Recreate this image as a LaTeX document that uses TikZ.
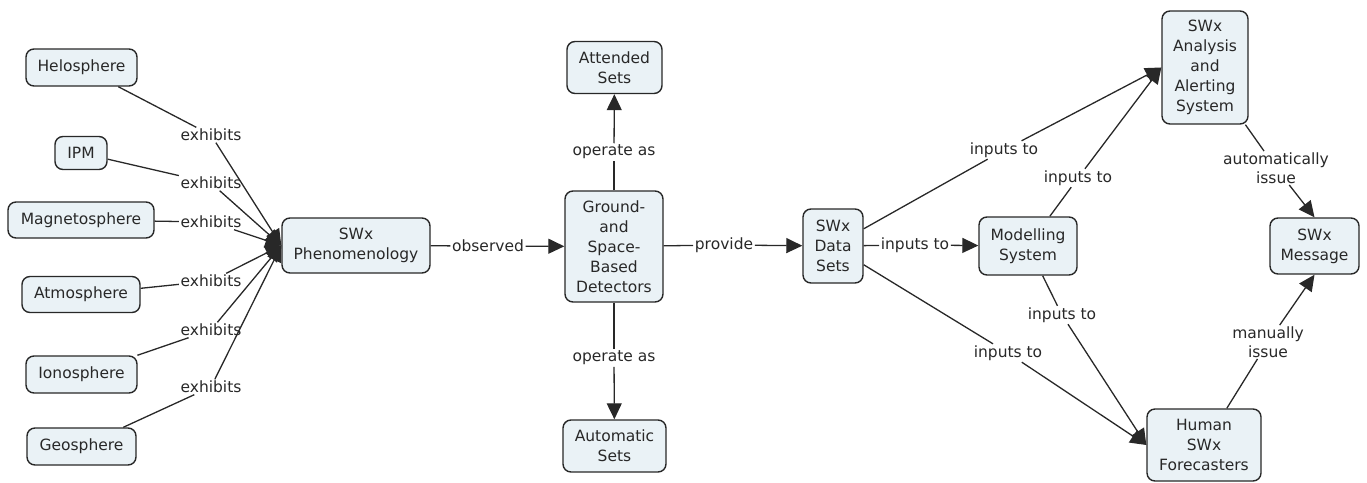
\documentclass[tikz,border=0pt]{standalone}
\usepackage{fontspec}
\setmainfont{DejaVu Sans}
\usetikzlibrary{arrows.meta}
\definecolor{boxfill}{RGB}{234,242,246}
\definecolor{ink}{RGB}{40,40,40}
\begin{document}
\begin{tikzpicture}[x=1pt,y=-1pt,
  concept/.style={draw=ink, line width=1.4pt, fill=boxfill, rounded corners=8pt,
    align=center, inner sep=0pt, text=ink, font=\fontsize{15.5}{20}\selectfont},
  lbl/.style={inner sep=1.5pt, text=ink, align=center,
    font=\fontsize{15.5}{18.5}\selectfont},
  link/.style={draw=ink, line width=1.3pt},
  arr/.style={link, -{Triangle[length=16pt,width=15pt]}},
]
\useasboundingbox (0,0) rectangle (1367,482);

% concepts
\node[concept, minimum width=111pt, minimum height=37pt] (hel) at (81.5,67.5) {Helosphere};
\node[concept, minimum width=52pt,  minimum height=33pt] (ipm) at (81,153) {IPM};
\node[concept, minimum width=146pt, minimum height=36pt] (mag) at (81,220) {Magnetosphere};
\node[concept, minimum width=118pt, minimum height=36pt] (atm) at (81,294.5) {Atmosphere};
\node[concept, minimum width=111pt, minimum height=37pt] (ion) at (81.5,374.5) {Ionosphere};
\node[concept, minimum width=109pt, minimum height=37pt] (geo) at (81.5,446.5) {Geosphere};

\node[concept, minimum width=148pt, minimum height=55pt] (phen) at (356,245.5) {SWx\\Phenomenology};
\node[concept, minimum width=98pt, minimum height=111pt] (det) at (614,246.5) {Ground-\\and\\Space-\\Based\\Detectors};
\node[concept, minimum width=95pt, minimum height=52pt] (att) at (614.5,67.5) {Attended\\Sets};
\node[concept, minimum width=103pt, minimum height=52pt] (aut) at (614.5,446) {Automatic\\Sets};

\node[concept, minimum width=60pt, minimum height=74pt] (data) at (833,246) {SWx\\Data\\Sets};
\node[concept, minimum width=98pt, minimum height=58pt] (mod) at (1028,246) {Modelling\\System};
\node[concept, minimum width=86pt, minimum height=113pt] (ana) at (1205,67.5) {SWx\\Analysis\\and\\Alerting\\System};
\node[concept, minimum width=89pt, minimum height=56pt] (msg) at (1314.5,246) {SWx\\Message};
\node[concept, minimum width=114pt, minimum height=72pt] (hum) at (1204,445) {Human\\SWx\\Forecasters};

% link labels
\node[lbl] (ex1) at (211,135) {exhibits};
\node[lbl] (ex2) at (211,183) {exhibits};
\node[lbl] (ex3) at (211,222) {exhibits};
\node[lbl] (ex4) at (211,281) {exhibits};
\node[lbl] (ex5) at (211,330) {exhibits};
\node[lbl] (ex6) at (211,387) {exhibits};
\node[lbl] (obs) at (488,246) {observed};
\node[lbl] (op1) at (614,152) {operate as};
\node[lbl] (op2) at (614,358) {operate as};
\node[lbl] (prov) at (724,245) {provide};
\node[lbl] (in1) at (915,245) {inputs to};
\node[lbl] (in2) at (1004,150) {inputs to};
\node[lbl] (in3) at (1078,178) {inputs to};
\node[lbl] (in4) at (1062,315) {inputs to};
\node[lbl] (in5) at (1008,353) {inputs to};
\node[lbl] (auto) at (1276,168) {automatically\\issue};
\node[lbl] (man) at (1268,342) {manually\\issue};

% connectors
\foreach \src/\lab in {hel/ex1, ipm/ex2, mag/ex3, atm/ex4, ion/ex5, geo/ex6} {
  \draw[link] (\src) -- (\lab);
  \draw[arr] (\lab) -- (phen.west);
}
\draw[link] (phen) -- (obs);  \draw[arr] (obs) -- (det);
\draw[link] (det) -- (op1);   \draw[arr] (op1) -- (att);
\draw[link] (det) -- (op2);   \draw[arr] (op2) -- (aut);
\draw[link] (det) -- (prov);  \draw[arr] (prov) -- (data);
\draw[link] (data) -- (in1);  \draw[arr] (in1) -- (mod);
\draw[link] (data) -- (in2);  \draw[arr] (in2) -- (ana.west);
\draw[link] (mod) -- (in3);   \draw[arr] (in3) -- (ana.west);
\draw[link] (mod) -- (in4);   \draw[arr] (in4) -- (hum.west);
\draw[link] (data) -- (in5);  \draw[arr] (in5) -- (hum.west);
\draw[link] (ana) -- (auto);  \draw[arr] (auto) -- (msg.north);
\draw[link] (hum) -- (man);   \draw[arr] (man) -- (msg.south);
\end{tikzpicture}
\end{document}
